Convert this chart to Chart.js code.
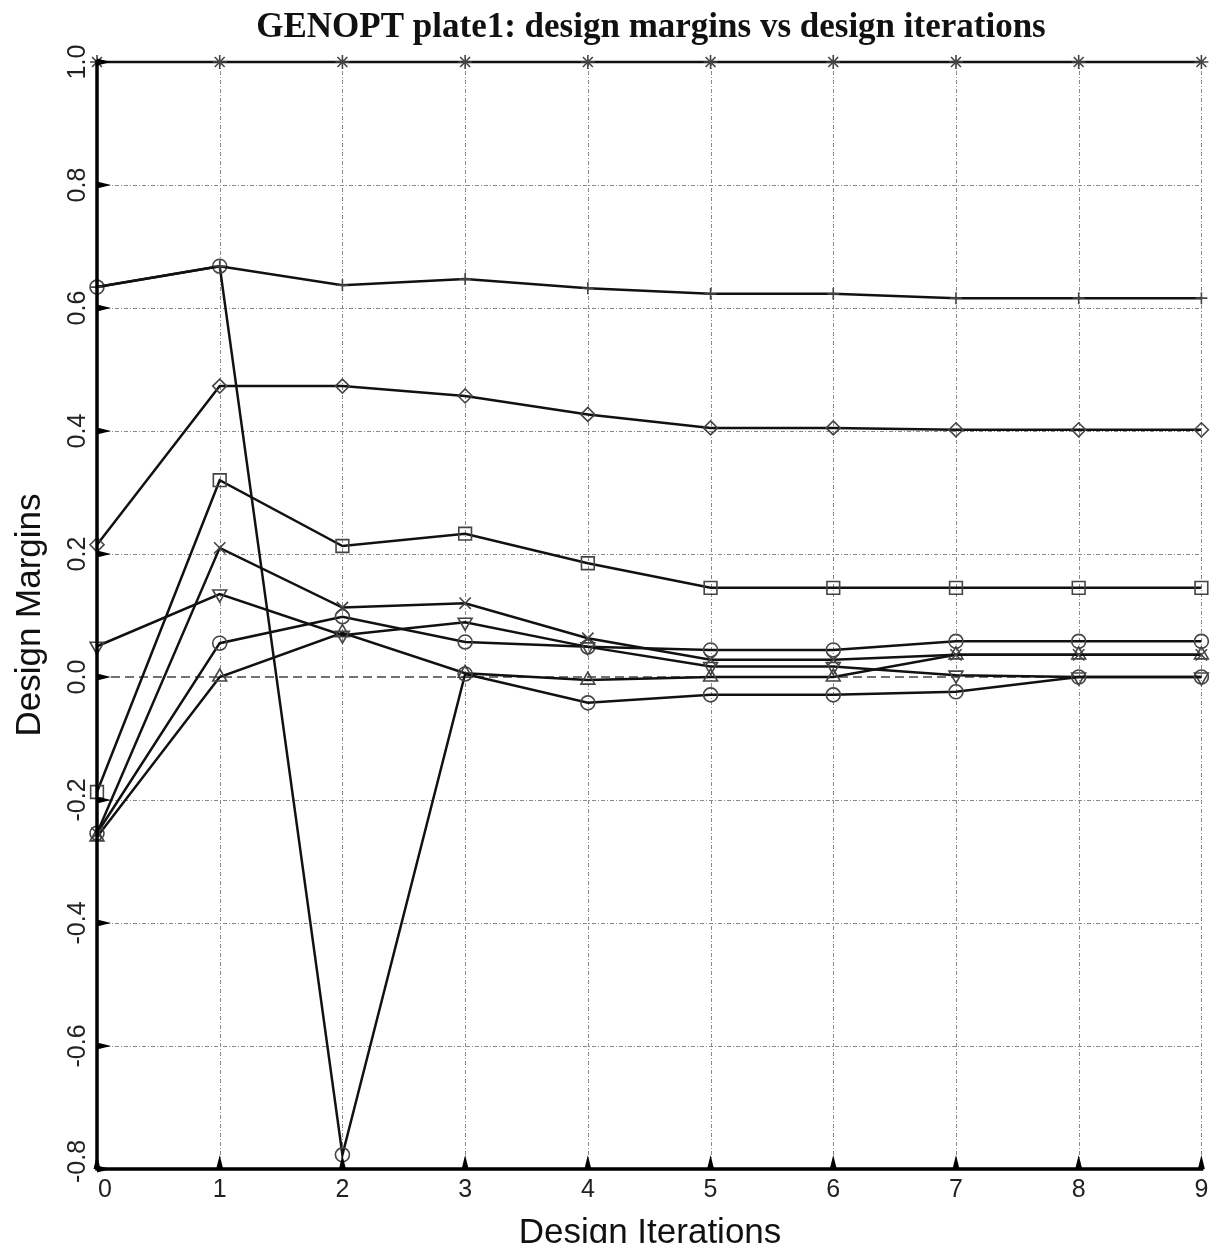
<!DOCTYPE html>
<html lang="en">
<head>
  <meta charset="UTF-8">
  <title>GENOPT plate1</title>
  <script src="https://cdn.jsdelivr.net/npm/chart.js@4/dist/chart.umd.min.js"></script>
  <style>
    body { margin: 0; background: #fff; }
    #wrap { width: 1212px; height: 1243px; position: relative; }
  </style>
</head>
<body>
  <div id="wrap"><canvas id="myChart"></canvas></div>
  <script>
    // design iterations
    var iterations = [0, 1, 2, 3, 4, 5, 6, 7, 8, 9]
    var yTicks = [1.0, 0.8, 0.6, 0.4, 0.2, 0.0, -0.2, -0.4, -0.6, -0.8]
    var yTickLabels = ["1.0", "0.8", "0.6", "0.4", "0.2", "0.0", "-0.2", "-0.4", "-0.6", "-0.8"]

    // margins, one array per constraint
    var margin1 = [1, 1, 1, 1, 1, 1, 1, 1, 1, 1]
    var margin2 = [0.634, 0.668, 0.637, 0.647, 0.632, 0.623, 0.623, 0.616, 0.616, 0.616]
    var margin3 = [0.215, 0.473, 0.473, 0.457, 0.427, 0.405, 0.405, 0.402, 0.402, 0.402]
    var margin4 = [0.634, 0.668, -0.777, 0.005, -0.042, -0.029, -0.029, -0.024, 0.0, 0.0]
    var margin5 = [-0.187, 0.320, 0.213, 0.233, 0.185, 0.145, 0.145, 0.145, 0.145, 0.145]
    var margin6 = [-0.254, 0.210, 0.113, 0.120, 0.063, 0.028, 0.028, 0.036, 0.036, 0.036]
    var margin7 = [0.050, 0.135, 0.068, 0.089, 0.049, 0.017, 0.017, 0.003, 0.0, 0.0]
    var margin8 = [-0.254, 0.055, 0.098, 0.057, 0.049, 0.044, 0.044, 0.058, 0.058, 0.058]
    var margin9 = [-0.260, 0.0, 0.072, 0.006, -0.005, 0.0, 0.0, 0.036, 0.036, 0.036]

    var series = [
      { data: margin1, style: 'star', rot: 0, r: 7 },
      { data: margin2, style: 'cross', rot: 0, r: 6 },
      { data: margin3, style: 'rectRot', rot: 0, r: 7 },
      { data: margin4, style: 'circle', rot: 0, r: 7 },
      { data: margin5, style: 'rect', rot: 0, r: 9 },
      { data: margin6, style: 'crossRot', rot: 0, r: 8 },
      { data: margin7, style: 'triangle', rot: 180, r: 8 },
      { data: margin8, style: 'circle', rot: 0, r: 7 },
      { data: margin9, style: 'triangle', rot: 0, r: 8 }
    ]

    function toPoints(arr) {
      return arr.map(function (v, i) { return { x: iterations[i], y: v } })
    }

    var datasets = series.map(function (s, i) {
      return {
        label: 'margin ' + (i + 1),
        data: toPoints(s.data),
        borderColor: '#111',
        borderWidth: 2.5,
        pointStyle: s.style,
        pointRotation: s.rot,
        pointRadius: s.r,
        pointBorderColor: '#444',
        pointBorderWidth: 1.6,
        pointBackgroundColor: 'rgba(255,255,255,0)',
        tension: 0,
        clip: false
      }
    })

    var sansFont = '"Liberation Sans", Arial, sans-serif'

    var plotDecor = {
      id: 'plotDecor',
      beforeDatasetsDraw: function (chart) {
        var ctx = chart.ctx
        var xs = chart.scales.x, ys = chart.scales.y
        var a = chart.chartArea
        ctx.save()
        ctx.lineWidth = 1
        ctx.strokeStyle = '#8a8a8a'
        ctx.setLineDash([4, 2, 1, 2])
        yTicks.forEach(function (v) {
          if (v === 0) return
          var y = Math.round(ys.getPixelForValue(v)) + 0.5
          ctx.beginPath(); ctx.moveTo(a.left, y); ctx.lineTo(a.right, y); ctx.stroke()
        })
        iterations.forEach(function (v) {
          if (v === 0) return
          var x = Math.round(xs.getPixelForValue(v)) + 0.5
          ctx.beginPath(); ctx.moveTo(x, a.top); ctx.lineTo(x, a.bottom); ctx.stroke()
        })
        // zero line
        ctx.strokeStyle = '#444'
        ctx.lineWidth = 1.5
        ctx.setLineDash([9, 5])
        var y0 = ys.getPixelForValue(0)
        ctx.beginPath(); ctx.moveTo(a.left, y0); ctx.lineTo(a.right, y0); ctx.stroke()
        ctx.restore()
      },
      afterDatasetsDraw: function (chart) {
        var ctx = chart.ctx
        var xs = chart.scales.x, ys = chart.scales.y
        var a = chart.chartArea
        ctx.save()
        // axes
        ctx.strokeStyle = '#000'
        ctx.lineWidth = 3.5
        ctx.beginPath()
        ctx.moveTo(a.left, a.top - 2)
        ctx.lineTo(a.left, a.bottom)
        ctx.lineTo(a.right + 2, a.bottom)
        ctx.stroke()
        // tick spikes
        ctx.fillStyle = '#000'
        yTicks.forEach(function (v) {
          var y = ys.getPixelForValue(v)
          ctx.beginPath(); ctx.moveTo(a.left, y - 3.5); ctx.lineTo(a.left + 14, y); ctx.lineTo(a.left, y + 3.5); ctx.fill()
        })
        iterations.forEach(function (v) {
          var x = xs.getPixelForValue(v)
          ctx.beginPath(); ctx.moveTo(x - 3.5, a.bottom); ctx.lineTo(x, a.bottom - 14); ctx.lineTo(x + 3.5, a.bottom); ctx.fill()
        })
        // x tick labels
        ctx.fillStyle = '#222'
        ctx.font = '25px ' + sansFont
        ctx.textBaseline = 'middle'
        iterations.forEach(function (v) {
          var x = xs.getPixelForValue(v)
          var w = ctx.measureText(String(v)).width
          ctx.textAlign = 'center'
          if (x - w / 2 < a.left) x = a.left + w / 2 + 1
          ctx.fillText(String(v), x, a.bottom + 21)
        })
        // y tick labels, rotated; keep the lowest one inside the axis
        yTicks.forEach(function (v, i) {
          var y = ys.getPixelForValue(v)
          var w = ctx.measureText(yTickLabels[i]).width
          if (y + w / 2 > a.bottom + 14) y = a.bottom + 14 - w / 2
          ctx.save()
          ctx.translate(78, y)
          ctx.rotate(-Math.PI / 2)
          ctx.textAlign = 'center'
          ctx.fillText(yTickLabels[i], 0, 0)
          ctx.restore()
        })
        // axis titles
        ctx.font = '35px ' + sansFont
        ctx.fillStyle = '#111'
        ctx.textAlign = 'center'
        ctx.textBaseline = 'alphabetic'
        ctx.fillText('Design Iterations', 650, 1243)
        ctx.save()
        ctx.translate(40, 615)
        ctx.rotate(-Math.PI / 2)
        ctx.fillText('Design Margins', 0, 0)
        ctx.restore()
        // title
        ctx.font = 'bold 35px "Liberation Serif", "Times New Roman", serif'
        ctx.textBaseline = 'middle'
        ctx.fillText('GENOPT plate1: design margins vs design iterations', 651, 28)
        ctx.restore()
      }
    }

    var ctx = document.getElementById('myChart').getContext('2d')
    var chart = new Chart(ctx, {
      type: 'line',
      data: { datasets: datasets },
      options: {
        responsive: true,
        maintainAspectRatio: false,
        animation: false,
        layout: { padding: { left: 97, right: 8, top: 62, bottom: 74 } },
        plugins: { legend: { display: false }, tooltip: { enabled: false }, title: { display: false } },
        scales: {
          x: { type: 'linear', min: 0, max: 9, display: false },
          y: { type: 'linear', min: -0.8, max: 1.0, display: false }
        }
      },
      plugins: [plotDecor]
    })
  </script>
</body>
</html>
